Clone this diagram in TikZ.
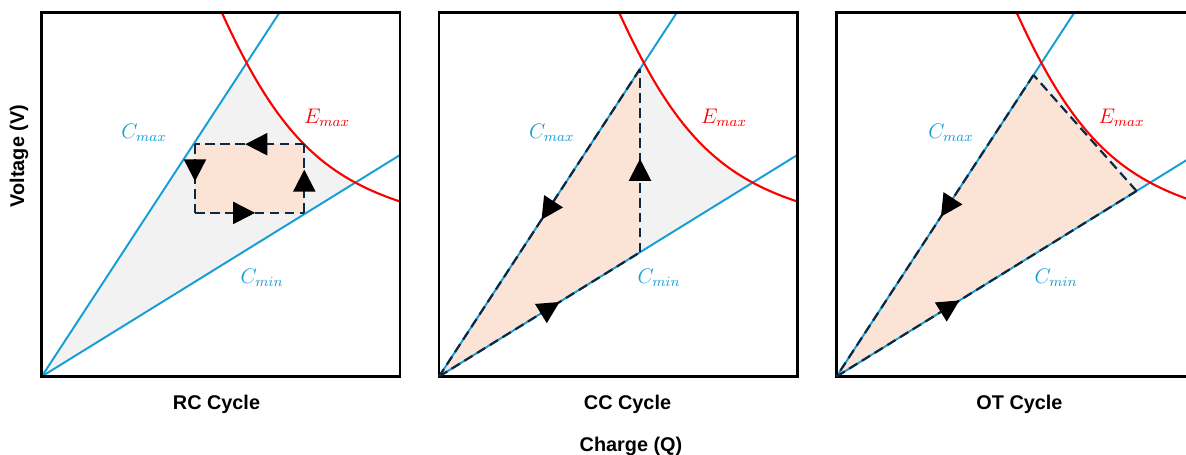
\documentclass[tikz,border=0pt]{standalone}
\usepackage{fontspec}
\setsansfont{Liberation Sans}
\usetikzlibrary{arrows.meta,decorations.markings}
\definecolor{cblue}{RGB}{21,158,214}
\definecolor{cred}{RGB}{250,0,0}
\definecolor{cgray}{RGB}{242,242,242}
\definecolor{corange}{RGB}{251,227,214}
\definecolor{cdash}{RGB}{14,40,65}
\tikzset{
  frame/.style={draw=black, line width=1.4pt},
  cline/.style={draw=cblue, line width=1.1pt},
  eline/.style={draw=cred, line width=1.2pt},
  cyc/.style={draw=cdash, line width=1.25pt, dash pattern=on 5.5pt off 3pt},
  arr/.style={postaction={decorate, decoration={markings,
      mark=at position #1 with {\arrow{Triangle[length=0.44cm,width=0.44cm,color=black]}}}}},
  clab/.style={text=cblue, font=\fontsize{12}{14}\selectfont},
  elab/.style={text=cred, font=\fontsize{12}{14}\selectfont},
  ttl/.style={font=\sffamily\bfseries\fontsize{11.3}{13}\selectfont, anchor=base, inner sep=0pt},
}
\begin{document}
\begin{tikzpicture}[x=0.02cm, y=0.02cm]
\path[use as bounding box] (0,0) rectangle (1186,454);
\clip (0,0) rectangle (1186,454);
% gray feasible regions
\foreach \ox in {41.7,439,836.5} {
  \begin{scope}[shift={(\ox,77.5)}]
    \begin{scope}
      \clip (0,0) -- (238,364.2) -- (358.3,364.2) -- (358.3,221.5) -- cycle;
      \fill[cgray] (0,0) -- (0,364.2) -- (180,364.2) .. controls (232.3,249.1) and (276.9,201.9) .. (358.3,175) -- (358.3,0) -- cycle;
    \end{scope}
  \end{scope}
}
% panel 1 : RC cycle (orange fill)
\begin{scope}[shift={(41.7,77.5)}]
  \coordinate (a1) at (262.6,232.3);
  \coordinate (b1) at (153.3,232.3);
  \coordinate (c1) at (153.3,163.6);
  \coordinate (d1) at (262.6,163.6);
  \fill[corange] (a1) rectangle (c1);
\end{scope}
% panel 2 : CC cycle
\begin{scope}[shift={(439,77.5)}]
  \coordinate (o2) at (0,0);
  \coordinate (p2) at (201,124.2);
  \coordinate (t2) at (201,307.5);
  \fill[corange] (o2) -- (p2) -- (t2) -- cycle;
\end{scope}
% panel 3 : OT cycle
\begin{scope}[shift={(836.5,77.5)}]
  \coordinate (o3) at (0,0);
  \coordinate (p3) at (300,185.5);
  \coordinate (t3) at (197,301.5);
  \fill[corange] (o3) -- (p3) -- (t3) -- cycle;
\end{scope}
% limit lines and frames
\foreach \ox in {41.7,439,836.5} {
  \begin{scope}[shift={(\ox,77.5)}]
    \coordinate (org) at (0,0);
    \coordinate (cmaxend) at (238,364.2);
    \coordinate (cminend) at (358.3,221.5);
    \coordinate (estart) at (180,364.2);
    \coordinate (eend) at (358.3,175);
    \draw[cline] (org) -- (cmaxend);
    \draw[cline] (org) -- (cminend);
    \draw[eline] (estart) .. controls (232.3,249.1) and (276.9,201.9) .. (eend);
    \draw[frame] (0,0) rectangle (358.3,364.2);
  \end{scope}
}
% cycles
\draw[cyc, arr=0.54] (a1) -- (b1);
\draw[cyc, arr=0.54] (b1) -- (c1);
\draw[cyc, arr=0.55] (c1) -- (d1);
\draw[cyc, arr=0.63] (d1) -- (a1);
\draw[cyc, arr=0.60] (o2) -- (p2);
\draw[cyc, arr=0.51] (p2) -- (t2);
\draw[cyc, arr=0.49] (t2) -- (o2);
\draw[cyc, arr=0.41] (o3) -- (p3);
\draw[cyc] (p3) -- (t3);
\draw[cyc, arr=0.47] (t3) -- (o3);
% labels
\node[clab] (cmax1) at (144,321) {$C_{max}$};
\node[elab] (emax1) at (327,336) {$E_{max}$};
\node[clab] (cmin1) at (262,176) {$C_{min}$};
\node[clab] (cmax2) at (551.7,321) {$C_{max}$};
\node[elab] (emax2) at (724,336) {$E_{max}$};
\node[clab] (cmin2) at (659,176) {$C_{min}$};
\node[clab] (cmax3) at (951,321) {$C_{max}$};
\node[elab] (emax3) at (1121.5,336) {$E_{max}$};
\node[clab] (cmin3) at (1056,176) {$C_{min}$};
\node[ttl] (t1) at (216.5,44.7) {RC Cycle};
\node[ttl] (t2l) at (627.5,44.7) {CC Cycle};
\node[ttl] (t3l) at (1019.5,44.7) {OT Cycle};
\node[ttl] (xl) at (631,2.3) {Charge (Q)};
\node[ttl, rotate=90] (yl) at (24,298) {Voltage (V)};
\end{tikzpicture}
\end{document}
